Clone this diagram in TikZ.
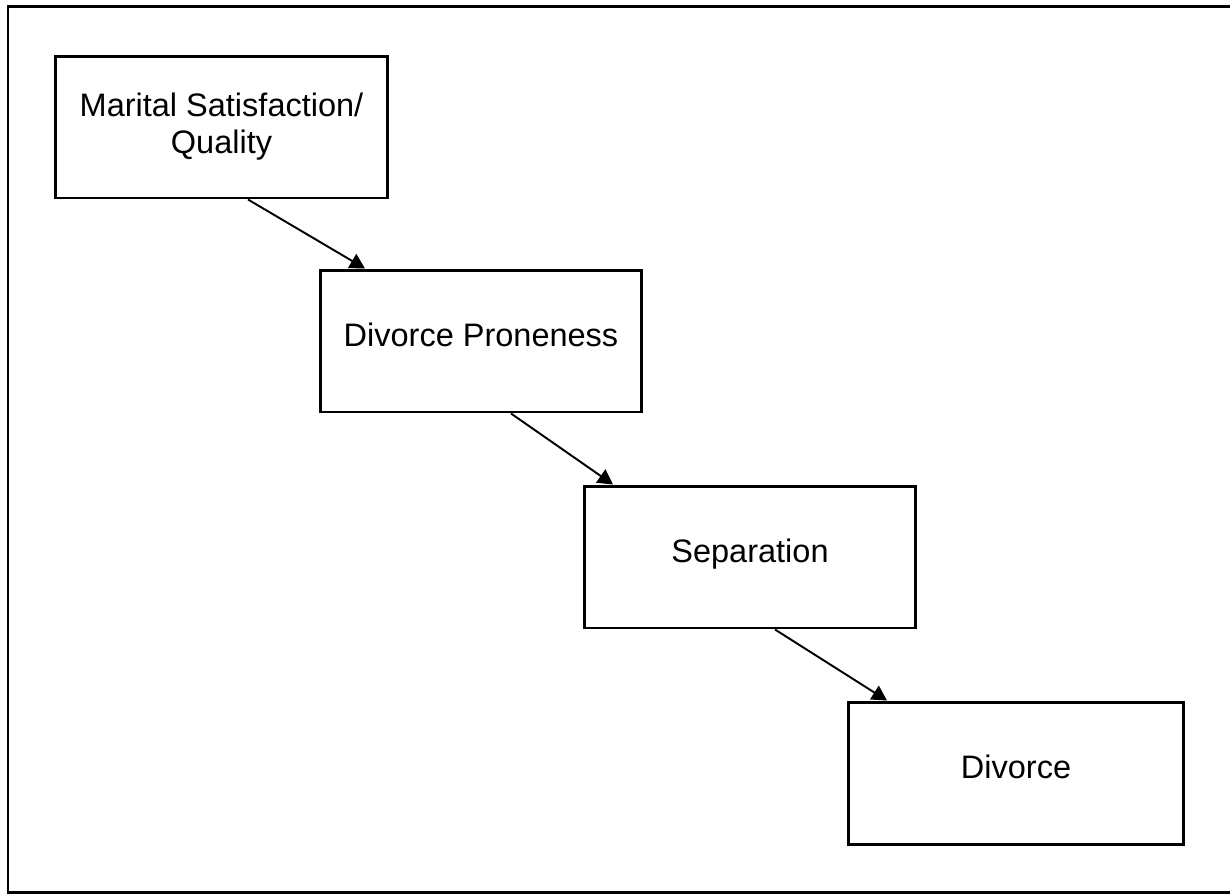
\documentclass[tikz,border=0pt]{standalone}
\usepackage{fontspec}
\setmainfont{Liberation Sans}
\usetikzlibrary{arrows.meta}

\begin{document}
\begin{tikzpicture}[x=.02cm,y=-.02cm,line width=1.7pt,font=\fontsize{18.5}{21}\selectfont,
  stagebox/.style={draw,align=center,inner sep=0pt,minimum height=2.84cm},
  oneline/.style={text depth=.24cm},
  stagearrow/.style={line width=1.1pt,-{Triangle[length=.3cm,width=.32cm]}}]
\useasboundingbox (0,0) rectangle (1230,894);
\draw (8,6) rectangle (1240,892.5);
\node[stagebox,minimum width=6.66cm] (msq) at (221.5,127) {Marital Satisfaction/\\Quality};
\node[stagebox,oneline,minimum width=6.44cm] (prone) at (481,341) {Divorce Proneness};
\node[stagebox,oneline,minimum width=6.64cm] (sep) at (750,557) {Separation};
\node[stagebox,oneline,minimum width=6.72cm] (div) at (1016,773) {Divorce};
\draw[stagearrow] ([xshift=.53cm]msq.south) -- ([xshift=-2.32cm]prone.north);
\draw[stagearrow] ([xshift=.6cm]prone.south) -- ([xshift=-2.74cm]sep.north);
\draw[stagearrow] ([xshift=.5cm]sep.south) -- ([xshift=-2.58cm]div.north);
\end{tikzpicture}
\end{document}
